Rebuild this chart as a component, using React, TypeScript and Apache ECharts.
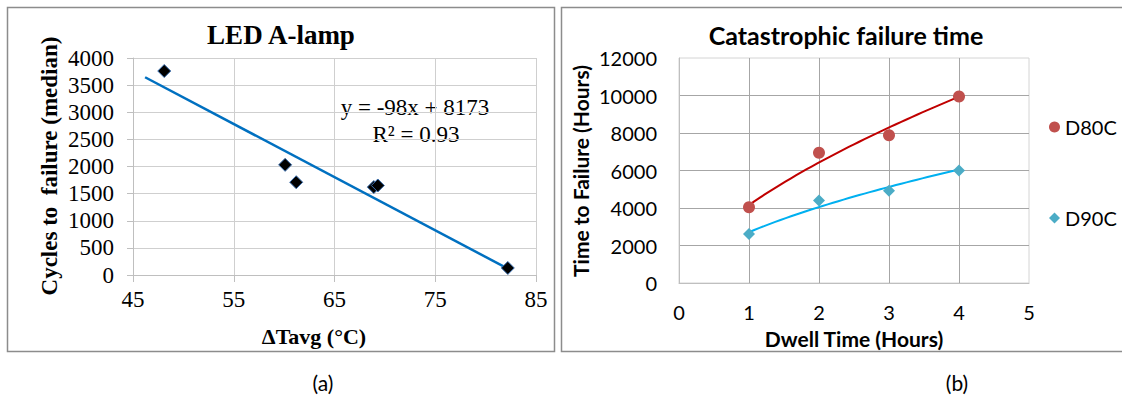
import React, { useEffect, useRef } from "react";
import * as echarts from "echarts";

// ---------- (a) LED A-lamp ----------
const ledDeltaT = [48.1, 60.1, 61.2, 68.9, 69.3, 82.2];
const ledCycles = [3760, 2030, 1710, 1620, 1650, 130];
const ledFitSlope = -98;
const ledFitIntercept = 8173;
const ledFitRange = [46.2, 82.2];
const ledXMin = 45;
const ledXMax = 85;
const ledXStep = 10;
const ledYMax = 4000;
const ledYStep = 500;

// ---------- (b) Catastrophic failure time ----------
const dwellHours = [1, 2, 3, 4];
const d80cHours = [4040, 6950, 7880, 9950];
const d90cHours = [2620, 4400, 4920, 6000];
const dwellXMax = 5;
const failYMax = 12000;
const failYStep = 2000;

function powerFit(xs: number[], ys: number[]) {
  const lx = xs.map((v) => Math.log(v));
  const ly = ys.map((v) => Math.log(v));
  const n = xs.length;
  const mx = lx.reduce((a, b) => a + b, 0) / n;
  const my = ly.reduce((a, b) => a + b, 0) / n;
  let sxy = 0;
  let sxx = 0;
  for (let i = 0; i < n; i++) {
    sxy += (lx[i] - mx) * (ly[i] - my);
    sxx += (lx[i] - mx) * (lx[i] - mx);
  }
  const b = sxy / sxx;
  const a = Math.exp(my - b * mx);
  return (x: number) => a * Math.pow(x, b);
}

function fitCurve(xs: number[], ys: number[]) {
  const f = powerFit(xs, ys);
  const lo = Math.min(...xs);
  const hi = Math.max(...xs);
  const pts: number[][] = [];
  const steps = 40;
  for (let i = 0; i <= steps; i++) {
    const x = lo + ((hi - lo) * i) / steps;
    pts.push([x, f(x)]);
  }
  return pts;
}

const SERIF = "'Liberation Serif', 'Times New Roman', serif";
const SANS = "Lato, 'Noto Sans', sans-serif";
const plain = (v: number) => String(v);

export default function App() {
  const ref = useRef<HTMLDivElement>(null);

  useEffect(() => {
    document.body.style.margin = "0";
    if (!ref.current) return;
    const chart = echarts.init(ref.current, null, { renderer: "svg" });

    const ledPoints = ledDeltaT.map((x, i) => [x - ledXMin, ledCycles[i]]);
    const ledLine = ledFitRange.map((x) => [x - ledXMin, ledFitSlope * x + ledFitIntercept]);

    const d80 = dwellHours.map((x, i) => [x, d80cHours[i]]);
    const d90 = dwellHours.map((x, i) => [x, d90cHours[i]]);

    const option: any = {
      animation: false,
      backgroundColor: "#ffffff",
      grid: [
        { left: 133, top: 58, width: 403, height: 217, show: false },
        {
          left: 679,
          top: 58,
          width: 350,
          height: 225,
          show: true,
          borderColor: "#D4D4D4",
          borderWidth: 1,
        },
      ],
      xAxis: [
        {
          gridIndex: 0,
          type: "value",
          min: 0,
          max: ledXMax - ledXMin,
          interval: ledXStep,
          axisLine: { show: true, lineStyle: { color: "#BFBFBF", width: 1 } },
          axisTick: { show: true, length: 7, lineStyle: { color: "#BFBFBF" } },
          splitLine: { show: true, lineStyle: { color: "#CFCFCF", width: 1 } },
          axisLabel: {
            color: "#000",
            fontFamily: SERIF,
            fontSize: 23,
            margin: 13,
            formatter: (v: number) => String(v + ledXMin),
          },
        },
        {
          gridIndex: 1,
          type: "value",
          min: 0,
          max: dwellXMax,
          interval: 1,
          axisLine: { show: true, lineStyle: { color: "#BFBFBF", width: 1 } },
          axisTick: { show: false },
          splitLine: {
            show: true,
            showMinLine: false,
            showMaxLine: false,
            lineStyle: { color: "#A6A6A6", width: 1 },
          },
          axisLabel: { color: "#000", fontFamily: SANS, fontSize: 20, margin: 19, formatter: plain },
        },
      ],
      yAxis: [
        {
          gridIndex: 0,
          type: "value",
          min: 0,
          max: ledYMax,
          interval: ledYStep,
          axisLine: { show: true, lineStyle: { color: "#BFBFBF", width: 1 } },
          axisTick: { show: true, length: 6, lineStyle: { color: "#BFBFBF" } },
          splitLine: { show: true, lineStyle: { color: "#CFCFCF", width: 1 } },
          axisLabel: { color: "#000", fontFamily: SERIF, fontSize: 23, margin: 19, formatter: plain },
        },
        {
          gridIndex: 1,
          type: "value",
          min: 0,
          max: failYMax,
          interval: failYStep,
          axisLine: { show: true, lineStyle: { color: "#BFBFBF", width: 1 } },
          axisTick: { show: false },
          splitLine: {
            show: true,
            showMinLine: false,
            showMaxLine: false,
            lineStyle: { color: "#A6A6A6", width: 1 },
          },
          axisLabel: { color: "#000", fontFamily: SANS, fontSize: 20, margin: 22, formatter: plain },
        },
      ],
      legend: {
        data: [
          { name: "D80C", icon: "circle" },
          { name: "D90C", icon: "diamond" },
        ],
        orient: "vertical",
        left: 1044,
        top: 112,
        itemWidth: 11,
        itemHeight: 11,
        itemGap: 71,
        textStyle: { color: "#000", fontFamily: SANS, fontSize: 20, padding: [0, 0, 0, 0] },
      },
      series: [
        {
          name: "LED trend",
          type: "line",
          xAxisIndex: 0,
          yAxisIndex: 0,
          data: ledLine,
          showSymbol: false,
          symbol: "none",
          lineStyle: { color: "#0070C0", width: 2.5 },
          z: 2,
        },
        {
          name: "LED A-lamp",
          type: "scatter",
          xAxisIndex: 0,
          yAxisIndex: 0,
          data: ledPoints,
          symbol: "diamond",
          symbolSize: 13,
          itemStyle: { color: "#000000", borderColor: "#3A6FB0", borderWidth: 1, opacity: 1 },
          z: 3,
        },
        {
          name: "D80C trend",
          type: "line",
          xAxisIndex: 1,
          yAxisIndex: 1,
          data: fitCurve(dwellHours, d80cHours),
          showSymbol: false,
          symbol: "none",
          lineStyle: { color: "#C00000", width: 2 },
          z: 2,
        },
        {
          name: "D90C trend",
          type: "line",
          xAxisIndex: 1,
          yAxisIndex: 1,
          data: fitCurve(dwellHours, d90cHours),
          showSymbol: false,
          symbol: "none",
          lineStyle: { color: "#00B0F0", width: 2 },
          z: 2,
        },
        {
          name: "D80C",
          type: "scatter",
          xAxisIndex: 1,
          yAxisIndex: 1,
          data: d80,
          symbol: "circle",
          symbolSize: 12,
          itemStyle: { color: "#C0504D", opacity: 1 },
          z: 3,
        },
        {
          name: "D90C",
          type: "scatter",
          xAxisIndex: 1,
          yAxisIndex: 1,
          data: d90,
          symbol: "diamond",
          symbolSize: 12,
          itemStyle: { color: "#4BACC6", opacity: 1 },
          z: 3,
        },
      ],
      graphic: [
        {
          type: "rect",
          shape: { x: 7.5, y: 7.5, width: 547, height: 344 },
          style: { fill: "none", stroke: "#8C8C8C", lineWidth: 1.5 },
          z: 0,
        },
        {
          type: "rect",
          shape: { x: 561.5, y: 7.5, width: 600, height: 344 },
          style: { fill: "none", stroke: "#8C8C8C", lineWidth: 1.5 },
          z: 0,
        },
        {
          type: "text",
          x: 281,
          y: 35,
          style: {
            text: "LED A-lamp",
            fill: "#000",
            font: `bold 27px ${SERIF}`,
            align: "center",
            verticalAlign: "middle",
          },
        },
        {
          type: "text",
          x: 49,
          y: 166,
          rotation: Math.PI / 2,
          style: {
            text: "Cycles to  failure (median)",
            fill: "#000",
            font: `bold 23px ${SERIF}`,
            align: "center",
            verticalAlign: "middle",
          },
        },
        {
          type: "text",
          x: 314,
          y: 336,
          style: {
            text: "ΔTavg (°C)",
            fill: "#000",
            font: `bold 22px ${SERIF}`,
            align: "center",
            verticalAlign: "middle",
          },
        },
        {
          type: "text",
          x: 415,
          y: 107,
          style: {
            text: "y = -98x + 8173",
            fill: "#000",
            font: `23px ${SERIF}`,
            align: "center",
            verticalAlign: "middle",
          },
        },
        {
          type: "text",
          x: 416,
          y: 134,
          style: {
            text: "R² = 0.93",
            fill: "#000",
            font: `23px ${SERIF}`,
            align: "center",
            verticalAlign: "middle",
          },
        },
        {
          type: "text",
          x: 846,
          y: 35,
          style: {
            text: "Catastrophic failure time",
            fill: "#000",
            font: `bold 25px ${SANS}`,
            align: "center",
            verticalAlign: "middle",
          },
        },
        {
          type: "text",
          x: 580,
          y: 171,
          rotation: Math.PI / 2,
          style: {
            text: "Time to Failure (Hours)",
            fill: "#000",
            font: `bold 21px ${SANS}`,
            align: "center",
            verticalAlign: "middle",
          },
        },
        {
          type: "text",
          x: 854,
          y: 338,
          style: {
            text: "Dwell Time (Hours)",
            fill: "#000",
            font: `bold 21px ${SANS}`,
            align: "center",
            verticalAlign: "middle",
          },
        },
        {
          type: "text",
          x: 323,
          y: 382,
          style: {
            text: "(a)",
            fill: "#000",
            font: `21px ${SANS}`,
            align: "center",
            verticalAlign: "middle",
          },
        },
        {
          type: "text",
          x: 957,
          y: 382,
          style: {
            text: "(b)",
            fill: "#000",
            font: `21px ${SANS}`,
            align: "center",
            verticalAlign: "middle",
          },
        },
      ],
    };

    chart.setOption(option);
    return () => {
      chart.dispose();
    };
  }, []);

  return (
    <div
      ref={ref}
      style={{ position: "absolute", left: 0, top: 0, width: 1122, height: 401, background: "#fff" }}
    />
  );
}
